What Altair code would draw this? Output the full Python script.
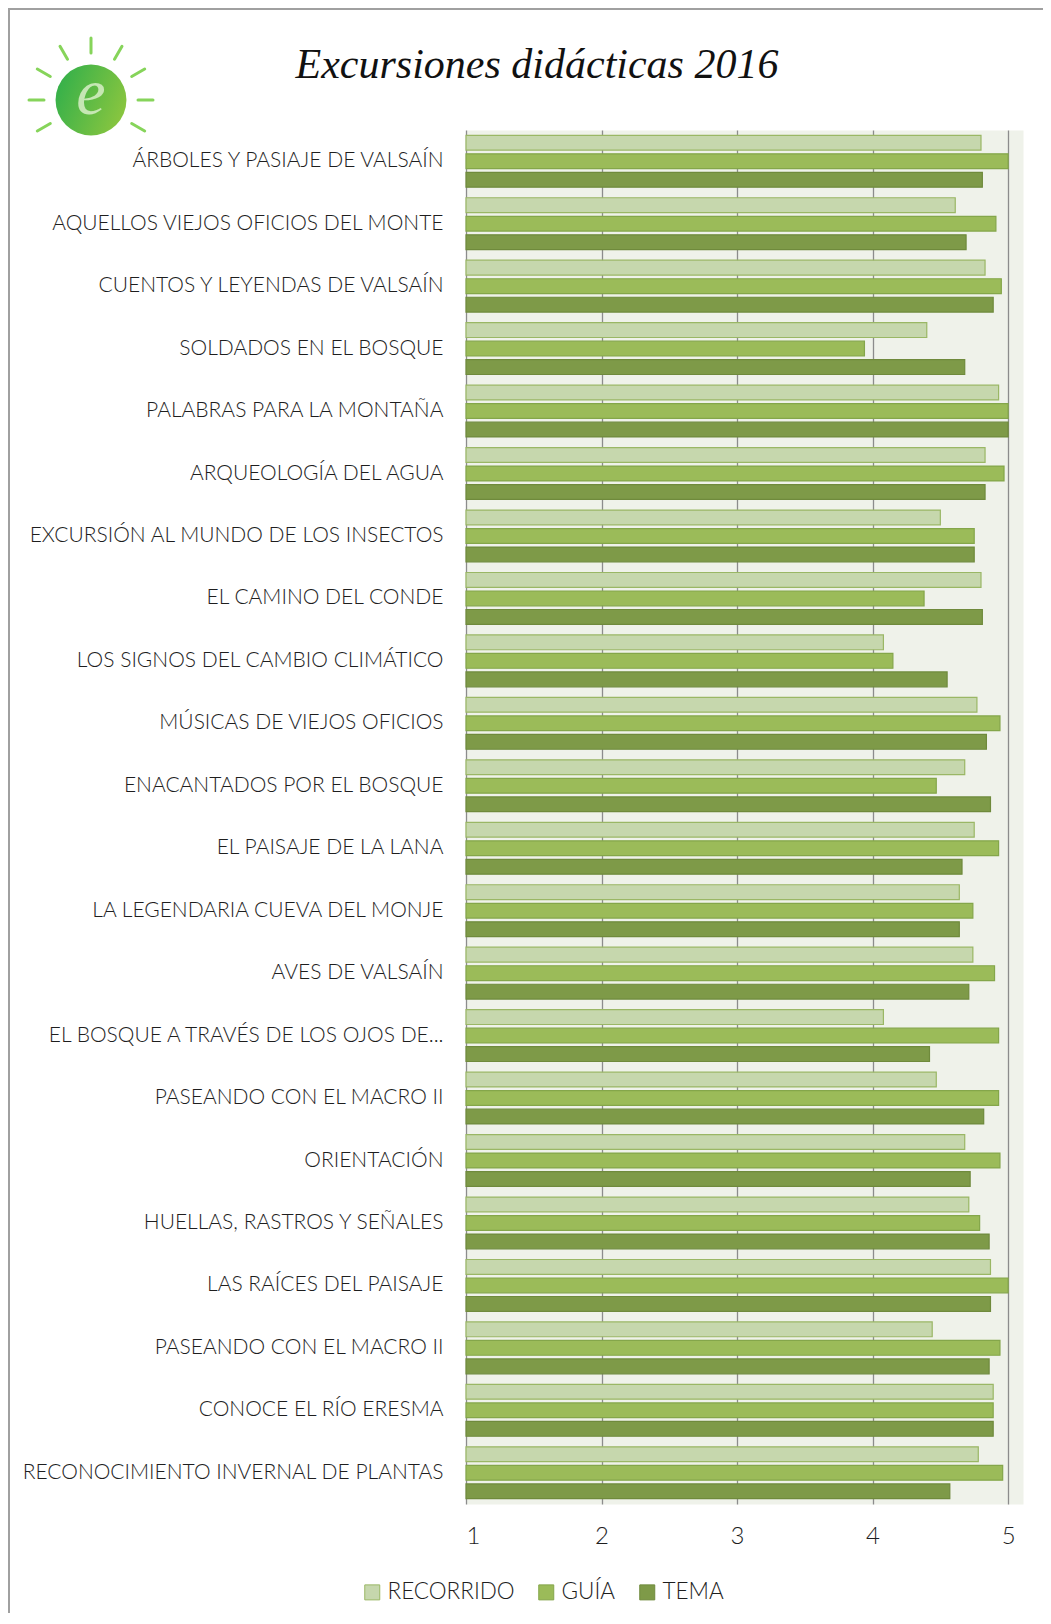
import altair as alt
import pandas as pd
import numpy as np
import json

categories = [
    "ÁRBOLES Y PASIAJE DE VALSAÍN",
    "AQUELLOS VIEJOS OFICIOS DEL MONTE",
    "CUENTOS Y LEYENDAS DE VALSAÍN",
    "SOLDADOS EN EL BOSQUE",
    "PALABRAS PARA LA MONTAÑA",
    "ARQUEOLOGÍA DEL AGUA",
    "EXCURSIÓN AL MUNDO DE LOS INSECTOS",
    "EL CAMINO DEL CONDE",
    "LOS SIGNOS DEL CAMBIO CLIMÁTICO",
    "MÚSICAS DE VIEJOS OFICIOS",
    "ENACANTADOS POR EL BOSQUE",
    "EL PAISAJE DE LA LANA",
    "LA LEGENDARIA CUEVA DEL MONJE",
    "AVES DE VALSAÍN",
    "EL BOSQUE A TRAVÉS DE LOS OJOS DE...",
    "PASEANDO CON EL MACRO II",
    "ORIENTACIÓN",
    "HUELLAS, RASTROS Y SEÑALES",
    "LAS RAÍCES DEL PAISAJE",
    "PASEANDO CON EL MACRO II",
    "CONOCE EL RÍO ERESMA",
    "RECONOCIMIENTO INVERNAL DE PLANTAS",
]

series = ["RECORRIDO", "GUÍA", "TEMA"]

recorrido = [4.80, 4.61, 4.83, 4.40, 4.93, 4.83, 4.50, 4.80, 4.08, 4.77, 4.68,
             4.75, 4.64, 4.74, 4.08, 4.47, 4.68, 4.71, 4.87, 4.44, 4.89, 4.78]
guia = [5.00, 4.91, 4.95, 3.94, 5.00, 4.97, 4.75, 4.38, 4.15, 4.94, 4.47,
        4.93, 4.74, 4.90, 4.93, 4.93, 4.94, 4.79, 5.00, 4.94, 4.89, 4.96]
tema = [4.81, 4.69, 4.89, 4.68, 5.00, 4.83, 4.75, 4.81, 4.55, 4.84, 4.87,
        4.66, 4.64, 4.71, 4.42, 4.82, 4.72, 4.86, 4.87, 4.86, 4.89, 4.57]

tick_values = [1, 2, 3, 4, 5]
title_text = "Excursiones didácticas 2016"

rows = []
for i, cat in enumerate(categories):
    for s, vals in zip(series, [recorrido, guia, tema]):
        rows.append({"idx": i, "cat": cat, "serie": s, "valor": vals[i]})
df = pd.DataFrame(rows)

fills = ["#C6D7AD", "#9BBB59", "#7E9A48"]
strokes = ["#9AB765", "#84A64A", "#6F8A3C"]

FONT = "Lato"
W = 557
H = 1374
TOTAL_W, TOTAL_H = 1035, 1605
PAD_L, PAD_T = 458, 122
PAD_R = TOTAL_W - PAD_L - W
PAD_B = TOTAL_H - PAD_T - H

label_expr = json.dumps(categories) + "[datum.value]"

bars = alt.Chart(df).mark_bar(strokeWidth=1.2).encode(
    y=alt.Y("idx:O",
            sort="ascending",
            scale=alt.Scale(paddingInner=0.17, paddingOuter=0.085),
            axis=alt.Axis(title=None, labelExpr=label_expr, ticks=False, domain=False,
                          labelFont=FONT, labelFontWeight=300, labelFontSize=21,
                          labelColor="#1E1E1E", labelPadding=23, labelLimit=600,
                          grid=False)),
    yOffset=alt.YOffset("serie:N", sort=series,
                        scale=alt.Scale(paddingInner=0.2, paddingOuter=0)),
    x=alt.X("valor:Q",
            scale=alt.Scale(domain=[1, 5.11], nice=False, zero=False),
            axis=alt.Axis(title=None, values=tick_values, ticks=False, domain=False,
                          grid=True, gridColor="#8C8C8C", gridWidth=1.3,
                          labelFont=FONT, labelFontWeight=300, labelFontSize=24,
                          labelColor="#1E1E1E", labelPadding=20)),
    x2=alt.datum(1),
    color=alt.Color("serie:N", sort=series,
                    scale=alt.Scale(domain=series, range=fills),
                    legend=alt.Legend(title=None, orient="none", legendX=-105, legendY=1451,
                                      direction="horizontal", symbolType="square",
                                      symbolSize=225, symbolStrokeColor="#8FB05A",
                                      symbolStrokeWidth=1, labelFont=FONT,
                                      labelFontWeight=300, labelFontSize=22.5,
                                      labelColor="#1E1E1E", labelOffset=4,
                                      columnPadding=20)),
    stroke=alt.Stroke("serie:N", sort=series,
                      scale=alt.Scale(domain=series, range=strokes), legend=None),
)

# frame lines (decoration)
one = alt.Data(values=[{"a": 1}])
frame_left = alt.Chart(one).mark_rule(color="#A0A0A0", strokeWidth=2).encode(
    x=alt.value(-457), y=alt.value(-122), y2=alt.value(H + PAD_B))
frame_top = alt.Chart(one).mark_rule(color="#A0A0A0", strokeWidth=2).encode(
    x=alt.value(-458), x2=alt.value(W + PAD_R), y=alt.value(-121))

# logo (decoration)
cx, cy = 91 - 466, 100 - 130
angles = np.deg2rad([-120, -90, -60, -30, 0, 30, 60, 90, 120])
r_in, r_out = 47, 62
rays = pd.DataFrame({
    "x": cx + r_in * np.sin(angles), "y": cy - r_in * np.cos(angles),
    "x2": cx + r_out * np.sin(angles), "y2": cy - r_out * np.cos(angles),
})
rays_layer = alt.Chart(rays).mark_rule(color="#86D45A", strokeWidth=3, strokeCap="round").encode(
    x=alt.X("x:Q", scale=None), y=alt.Y("y:Q", scale=None),
    x2="x2:Q", y2="y2:Q")

grad = alt.Gradient(gradient="linear",
                    stops=[alt.GradientStop(color="#34B04A", offset=0),
                           alt.GradientStop(color="#8CC63F", offset=1)],
                    x1=0, x2=1, y1=0.3, y2=0.7)
circle = alt.Chart(one).mark_point(shape="circle", filled=True, fill=grad, opacity=1,
                                   size=5027, strokeWidth=0).encode(
    x=alt.value(cx), y=alt.value(cy))
letter = alt.Chart(one).mark_text(text="e", font="Liberation Serif", fontStyle="italic",
                                  fontSize=66, color="#D8EFC8", opacity=0.85,
                                  align="center", baseline="middle").encode(
    x=alt.value(cx), y=alt.value(cy - 6))

title = alt.Chart(one).mark_text(text=title_text, font="Liberation Serif", fontStyle="italic",
                                 fontSize=42, color="#111111", align="center",
                                 baseline="alphabetic").encode(
    x=alt.value(537 - 466), y=alt.value(78 - 130))

chart = alt.layer(bars, frame_left, frame_top, rays_layer, circle, letter, title).properties(
    width=W, height=H,
    autosize=alt.AutoSizeParams(type="none"),
    padding={"left": PAD_L, "top": PAD_T, "right": PAD_R, "bottom": PAD_B},
).configure_view(fill="#EFF2EA", stroke="transparent")

chart.save("out.html", embed_options={"renderer": "svg", "actions": False})
